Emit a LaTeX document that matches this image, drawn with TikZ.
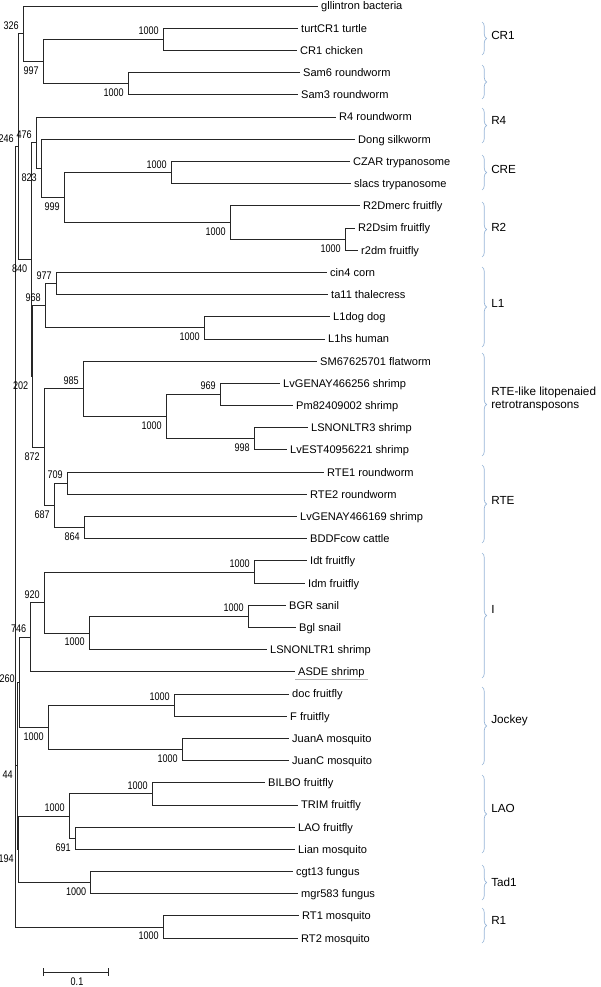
\documentclass[tikz,border=0pt]{standalone}
\usepackage{fontspec}
\setmainfont{Liberation Sans}
\newfontfamily\bsfont[FakeStretch=0.82]{Liberation Sans}
\usetikzlibrary{decorations.pathreplacing,arrows.meta}
\definecolor{bracecol}{RGB}{150,180,215}
\begin{document}
\begin{tikzpicture}[x=0.75pt,y=-0.75pt,
    br/.style={line width=0.55pt,black!85},
    leaf/.style={anchor=west,inner xsep=2.2pt,inner ysep=0pt,text height=7pt,text depth=1pt,font=\fontsize{8.3}{10}\selectfont},
    bsa/.style={anchor=south east,inner sep=0pt,xshift=-3pt,yshift=3pt,font=\bsfont\fontsize{8.3}{10}\selectfont},
    bsb/.style={anchor=north east,inner sep=0pt,xshift=-3pt,yshift=-3.8pt,font=\bsfont\fontsize{8.3}{10}\selectfont},
    grp/.style={decorate,decoration={brace,amplitude=3.4pt},draw=bracecol,line width=0.5pt},
    glab/.style={anchor=west,inner sep=0pt,font=\fontsize{8.8}{9.8}\selectfont,align=left}]
    \useasboundingbox (0,0) rectangle (600,987);
    \node[leaf] (gll) at (318,6) {gllintron bacteria};
    \node[leaf] (turt) at (298,28.2) {turtCR1 turtle};
    \node[leaf] (chick) at (297,50.4) {CR1 chicken};
    \node[leaf] (sam6) at (300,72.6) {Sam6 roundworm};
    \node[leaf] (sam3) at (298,94.8) {Sam3 roundworm};
    \node[leaf] (r4) at (336,117) {R4 roundworm};
    \node[leaf] (dong) at (355,139.1) {Dong silkworm};
    \node[leaf] (czar) at (350,161.3) {CZAR trypanosome};
    \node[leaf] (slacs) at (351,183.5) {slacs trypanosome};
    \node[leaf] (r2dmerc) at (360,205.7) {R2Dmerc fruitfly};
    \node[leaf] (r2dsim) at (355,227.9) {R2Dsim fruitfly};
    \node[leaf] (r2dm) at (358,250.1) {r2dm fruitfly};
    \node[leaf] (cin4) at (327,272.3) {cin4 corn};
    \node[leaf] (ta11) at (328,294.5) {ta11 thalecress};
    \node[leaf] (l1dog) at (330,316.7) {L1dog dog};
    \node[leaf] (l1hs) at (325,338.9) {L1hs human};
    \node[leaf] (sm) at (317,361) {SM67625701 flatworm};
    \node[leaf] (lvgen256) at (280,383.2) {LvGENAY466256 shrimp};
    \node[leaf] (pm) at (293,405.4) {Pm82409002 shrimp};
    \node[leaf] (lsnon3) at (308,427.6) {LSNONLTR3 shrimp};
    \node[leaf] (lvest) at (287,449.8) {LvEST40956221 shrimp};
    \node[leaf] (rte1) at (324,472) {RTE1 roundworm};
    \node[leaf] (rte2) at (307,494.2) {RTE2 roundworm};
    \node[leaf] (lvgen169) at (297,516.4) {LvGENAY466169 shrimp};
    \node[leaf] (bddf) at (307,538.6) {BDDFcow cattle};
    \node[leaf] (idt) at (307,560.8) {Idt fruitfly};
    \node[leaf] (idm) at (305,583) {Idm fruitfly};
    \node[leaf] (bgr) at (286,605.1) {BGR sanil};
    \node[leaf] (bgl) at (296,627.3) {Bgl snail};
    \node[leaf] (lsnon1) at (267,649.5) {LSNONLTR1 shrimp};
    \node[leaf] (asde) at (295,671.7) {ASDE shrimp};
    \node[leaf] (doc) at (289,693.9) {doc fruitfly};
    \node[leaf] (ffly) at (287,716.1) {F fruitfly};
    \node[leaf] (juana) at (289,738.3) {JuanA mosquito};
    \node[leaf] (juanc) at (289,760.5) {JuanC mosquito};
    \node[leaf] (bilbo) at (265,782.7) {BILBO fruitfly};
    \node[leaf] (trim) at (298,804.9) {TRIM fruitfly};
    \node[leaf] (lao) at (295,827.1) {LAO fruitfly};
    \node[leaf] (lian) at (295,849.2) {Lian mosquito};
    \node[leaf] (cgt) at (293,871.4) {cgt13 fungus};
    \node[leaf] (mgr) at (298,893.6) {mgr583 fungus};
    \node[leaf] (rt1) at (299,915.8) {RT1 mosquito};
    \node[leaf] (rt2) at (298,938) {RT2 mosquito};
    \coordinate (cr1) at (163,39.3);
    \coordinate (sam) at (128,83.7);
    \coordinate (n997) at (43,61.5);
    \coordinate (n326) at (23,33.7);
    \coordinate (r2s) at (345,239);
    \coordinate (r2) at (230,222.3);
    \coordinate (cre) at (171,172.4);
    \coordinate (n999) at (64,197.4);
    \coordinate (n823) at (41,168.3);
    \coordinate (n476) at (36,142.6);
    \coordinate (l1h) at (204,327.8);
    \coordinate (n977) at (56,283.4);
    \coordinate (n968) at (45,305.6);
    \coordinate (n998) at (254,438.7);
    \coordinate (n969) at (220,394.3);
    \coordinate (shr) at (166,416.5);
    \coordinate (n985) at (83,388.8);
    \coordinate (n709) at (67,483.1);
    \coordinate (n864) at (84,527.5);
    \coordinate (n687) at (54,505.3);
    \coordinate (n872) at (44,447);
    \coordinate (n202) at (32.5,376.5);
    \coordinate (n840) at (31.5,259.6);
    \coordinate (n246) at (18,146.7);
    \coordinate (ifly) at (254,571.9);
    \coordinate (snail) at (248,616.2);
    \coordinate (ib) at (89,632.9);
    \coordinate (n920) at (44,602.4);
    \coordinate (n746) at (30.5,637);
    \coordinate (docf) at (174,705);
    \coordinate (juan) at (182,749.4);
    \coordinate (jock) at (48,727.2);
    \coordinate (n260) at (19,682.5);
    \coordinate (bilt) at (152,793.8);
    \coordinate (n691) at (75,838.2);
    \coordinate (laoc) at (69,816);
    \coordinate (tad) at (90.5,882.5);
    \coordinate (n194) at (18,849);
    \coordinate (n44) at (17,765.8);
    \coordinate (rtc) at (163,926.9);
    \coordinate (root) at (15.5,536.8);
    \draw[br] (cr1) |- (turt.west) (cr1) |- (chick.west);
    \draw[br] (sam) |- (sam6.west) (sam) |- (sam3.west);
    \draw[br] (n997) |- (cr1) (n997) |- (sam);
    \draw[br] (n326) |- (gll.west) (n326) |- (n997);
    \draw[br] (r2s) |- (r2dsim.west) (r2s) |- (r2dm.west);
    \draw[br] (r2) |- (r2dmerc.west) (r2) |- (r2s);
    \draw[br] (cre) |- (czar.west) (cre) |- (slacs.west);
    \draw[br] (n999) |- (cre) (n999) |- (r2);
    \draw[br] (n823) |- (dong.west) (n823) |- (n999);
    \draw[br] (n476) |- (r4.west) (n476) |- (n823);
    \draw[br] (l1h) |- (l1dog.west) (l1h) |- (l1hs.west);
    \draw[br] (n977) |- (cin4.west) (n977) |- (ta11.west);
    \draw[br] (n968) |- (n977) (n968) |- (l1h);
    \draw[br] (n998) |- (lsnon3.west) (n998) |- (lvest.west);
    \draw[br] (n969) |- (lvgen256.west) (n969) |- (pm.west);
    \draw[br] (shr) |- (n969) (shr) |- (n998);
    \draw[br] (n985) |- (sm.west) (n985) |- (shr);
    \draw[br] (n709) |- (rte1.west) (n709) |- (rte2.west);
    \draw[br] (n864) |- (lvgen169.west) (n864) |- (bddf.west);
    \draw[br] (n687) |- (n709) (n687) |- (n864);
    \draw[br] (n872) |- (n985) (n872) |- (n687);
    \draw[br] (n202) |- (n968) (n202) |- (n872);
    \draw[br] (n840) |- (n476) (n840) |- (n202);
    \draw[br] (n246) |- (n326) (n246) |- (n840);
    \draw[br] (ifly) |- (idt.west) (ifly) |- (idm.west);
    \draw[br] (snail) |- (bgr.west) (snail) |- (bgl.west);
    \draw[br] (ib) |- (snail) (ib) |- (lsnon1.west);
    \draw[br] (n920) |- (ifly) (n920) |- (ib);
    \draw[br] (n746) |- (n920) (n746) |- (asde.west);
    \draw[br] (docf) |- (doc.west) (docf) |- (ffly.west);
    \draw[br] (juan) |- (juana.west) (juan) |- (juanc.west);
    \draw[br] (jock) |- (docf) (jock) |- (juan);
    \draw[br] (n260) |- (n746) (n260) |- (jock);
    \draw[br] (bilt) |- (bilbo.west) (bilt) |- (trim.west);
    \draw[br] (n691) |- (lao.west) (n691) |- (lian.west);
    \draw[br] (laoc) |- (bilt) (laoc) |- (n691);
    \draw[br] (tad) |- (cgt.west) (tad) |- (mgr.west);
    \draw[br] (n194) |- (laoc) (n194) |- (tad);
    \draw[br] (n44) |- (n260) (n44) |- (n194);
    \draw[br] (rtc) |- (rt1.west) (rtc) |- (rt2.west);
    \draw[br] (root) |- (n246) (root) |- (n44) (root) |- (rtc);
    \node[bsa] (bcr1) at (cr1) {1000};
    \node[bsb] (bsam) at (sam) {1000};
    \node[bsb] (b997) at (n997) {997};
    \node[bsa] (b326) at (n326) {326};
    \node[bsb] (br2s) at (r2s) {1000};
    \node[bsb] (br2) at (r2) {1000};
    \node[bsa] (bcre) at (cre) {1000};
    \node[bsb] (b999) at (n999) {999};
    \node[bsb] (b823) at (n823) {823};
    \node[bsa] (b476) at (n476) {476};
    \node[bsb] (bl1h) at (l1h) {1000};
    \node[bsa] (b977) at (n977) {977};
    \node[bsa] (b968) at (n968) {968};
    \node[bsb] (b998) at (n998) {998};
    \node[bsa] (b969) at (n969) {969};
    \node[bsb] (bshr) at (shr) {1000};
    \node[bsa] (b985) at (n985) {985};
    \node[bsa] (b709) at (n709) {709};
    \node[bsb] (b864) at (n864) {864};
    \node[bsb] (b687) at (n687) {687};
    \node[bsb] (b872) at (n872) {872};
    \node[bsb] (b202) at (n202) {202};
    \node[bsb] (b840) at (n840) {840};
    \node[bsa] (b246) at (n246) {246};
    \node[bsa] (bifly) at (ifly) {1000};
    \node[bsa] (bsnail) at (snail) {1000};
    \node[bsb] (bib) at (ib) {1000};
    \node[bsa] (b920) at (n920) {920};
    \node[bsa] (b746) at (n746) {746};
    \node[bsa] (bdocf) at (docf) {1000};
    \node[bsb] (bjuan) at (juan) {1000};
    \node[bsb] (bjock) at (jock) {1000};
    \node[bsa,anchor=east,yshift=0pt] (b260) at (n260) {260};
    \node[bsa] (bbilt) at (bilt) {1000};
    \node[bsb] (b691) at (n691) {691};
    \node[bsa] (blaoc) at (laoc) {1000};
    \node[bsb] (btad) at (tad) {1000};
    \node[bsb] (b194) at (n194) {194};
    \node[bsb] (b44) at (n44) {44};
    \node[bsb] (brtc) at (rtc) {1000};
    \draw[gray!60,line width=0.4pt] ([yshift=-1.5pt]asde.south west) -- ([yshift=-1.5pt]asde.south east);
    \draw[grp] (482,22) -- (482,55);
    \draw[grp] (482,65) -- (482,99);
    \draw[grp] (482,108) -- (482,143);
    \draw[grp] (482,155) -- (482,190);
    \draw[grp] (482,202) -- (482,257);
    \draw[grp] (482,267) -- (482,347);
    \draw[grp] (482,353) -- (482,456);
    \draw[grp] (482,465) -- (482,543);
    \draw[grp] (482,553) -- (482,678);
    \draw[grp] (482,687) -- (482,765);
    \draw[grp] (482,775) -- (482,853);
    \draw[grp] (482,865) -- (482,900);
    \draw[grp] (482,908) -- (482,943);
    \node[glab] (gcr1) at (491,35) {CR1};
    \node[glab] (gr4) at (491,120) {R4};
    \node[glab] (gcre) at (491,169) {CRE};
    \node[glab] (gr2) at (491,227) {R2};
    \node[glab] (gl1) at (491,303) {L1};
    \node[glab] (grtel) at (491,399) {RTE-like litopenaied\\retrotransposons};
    \node[glab] (grte) at (491,500) {RTE};
    \node[glab] (gi) at (491,609) {I};
    \node[glab] (gjock) at (491,720) {Jockey};
    \node[glab] (glao) at (491,808) {LAO};
    \node[glab] (gtad) at (491,882) {Tad1};
    \node[glab] (gr1) at (491,920) {R1};
    \coordinate (sb0) at (43,972);
    \coordinate (sb1) at (109,972);
    \draw[br,{Bar[width=6pt]}-{Bar[width=6pt]}] (sb0) -- (sb1);
    \node[inner sep=0pt,font=\bsfont\fontsize{8.3}{10}\selectfont] (sbl) at (77,982) {0.1};
\end{tikzpicture}
\end{document}
